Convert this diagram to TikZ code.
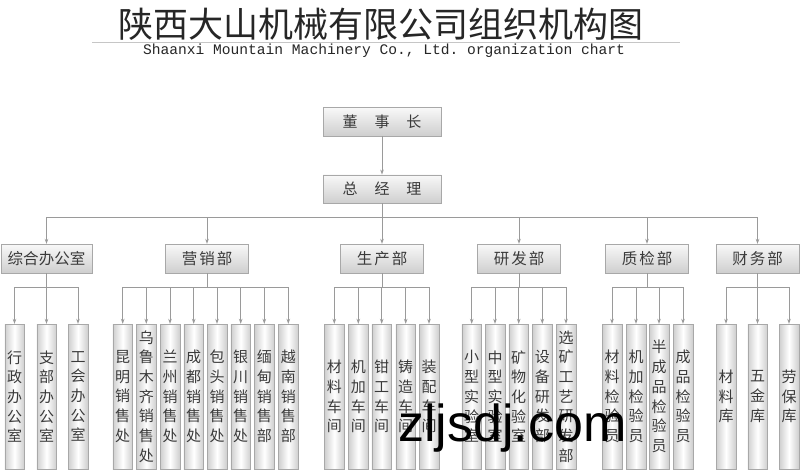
\documentclass[tikz,border=0pt]{standalone}
\usepackage{fontspec}
\newfontfamily\cjk{Noto Sans CJK SC}
\setmonofont{Liberation Mono}
\newfontfamily\wmfont{Liberation Sans}
\usetikzlibrary{arrows.meta}
\definecolor{linegray}{HTML}{9A9A9A}
\definecolor{boxline}{HTML}{A8A8A8}
\definecolor{txtgray}{HTML}{3A3A3A}
\begin{document}
\begin{tikzpicture}[x=1pt,y=-1pt,
  topbox/.style={draw=boxline, top color=gray!5, bottom color=gray!38, minimum width=118pt, minimum height=28.5pt, inner sep=0pt, font=\cjk\fontsize{15}{15}\selectfont, text=txtgray},
  deptbox/.style={draw=boxline, top color=gray!5, bottom color=gray!38, minimum width=83pt, minimum height=29pt, inner sep=0pt, font=\cjk\fontsize{15.5}{15.5}\selectfont, text=txtgray},
  leaf/.style={draw=boxline, left color=gray!38, right color=gray!38, middle color=white, minimum width=19.5pt, minimum height=145pt, inner sep=0pt, font=\cjk\fontsize{15}{19.7}\selectfont, align=center, text=txtgray},
  conn/.style={draw=linegray, line width=0.8pt},
  arr/.style={conn, -{Stealth[length=5pt,width=3.6pt]}}
]
\fill[white] (0,0) rectangle (800,471);
\useasboundingbox (0,0) rectangle (800,471);

% title
\node[font=\cjk\fontsize{35}{35}\selectfont, text=black!85] (title) at (381,24) {陕西大山机械有限公司组织机构图};
\draw[gray!45, line width=1pt] (92,42) -- (680,42);
\node[font=\ttfamily\fontsize{14.6}{14.6}\selectfont, text=black!85] (sub) at (384,51) {Shaanxi Mountain Machinery Co., Ltd. organization chart};

% top
\node[topbox] (dsz) at (382,121.5) {董\hspace{17pt}事\hspace{17pt}长};
\node[topbox] (zjl) at (382,189) {总\hspace{17pt}经\hspace{17pt}理};
\draw[arr] (dsz.south) -- (zjl.north);

% departments
\node[deptbox, minimum width=91pt] (d1) at (46.5,258.5) {综合办公室};
\node[deptbox] (d2) at (207,258.5) {营\hspace{2pt}销\hspace{2pt}部};
\node[deptbox] (d3) at (382,258.5) {生\hspace{2pt}产\hspace{2pt}部};
\node[deptbox] (d4) at (519,258.5) {研\hspace{2pt}发\hspace{2pt}部};
\node[deptbox] (d5) at (647,258.5) {质\hspace{2pt}检\hspace{2pt}部};
\node[deptbox] (d6) at (757.5,258.5) {财\hspace{2pt}务\hspace{2pt}部};

\coordinate (tb) at (0,217);
\draw[conn] (zjl.south) -- (zjl.south |- tb);
\draw[conn] (d1 |- tb) -- (d6 |- tb);
\foreach \d in {d1,d2,d3,d4,d5,d6} \draw[arr] (\d |- tb) -- (\d.north);

% leaves
\def\ly{396.5}
\foreach \x/\t [count=\i] in {14.5/{行\\政\\办\\公\\室}, 46.5/{支\\部\\办\\公\\室}, 78/{工\\会\\办\\公\\室}}
  \node[leaf] (a\i) at (\x,\ly) {\t};
\foreach \x/\t [count=\i] in {122.7/{昆\\明\\销\\售\\处}, 146.3/{乌\\鲁\\木\\齐\\销\\售\\处}, 170/{兰\\州\\销\\售\\处}, 193.7/{成\\都\\销\\售\\处}, 217/{包\\头\\销\\售\\处}, 240.7/{银\\川\\销\\售\\处}, 264.3/{缅\\甸\\销\\售\\部}, 288.3/{越\\南\\销\\售\\部}}
  \node[leaf] (b\i) at (\x,\ly) {\t};
\foreach \x/\t [count=\i] in {334.3/{材\\料\\车\\间}, 358.3/{机\\加\\车\\间}, 381.7/{钳\\工\\车\\间}, 405.7/{铸\\造\\车\\间}, 429/{装\\配\\车\\间}}
  \node[leaf] (c\i) at (\x,\ly) {\t};
\foreach \x/\t [count=\i] in {471.7/{小\\型\\实\\验\\室}, 495/{中\\型\\实\\验\\室}, 518.7/{矿\\物\\化\\验\\室}, 542.3/{设\\备\\研\\发\\部}, 566/{选\\矿\\工\\艺\\研\\发\\部}}
  \node[leaf] (e\i) at (\x,\ly) {\t};
\foreach \x/\t [count=\i] in {612/{材\\料\\检\\验\\员}, 636/{机\\加\\检\\验\\员}, 659/{半\\成\\品\\检\\验\\员}, 683/{成\\品\\检\\验\\员}}
  \node[leaf] (f\i) at (\x,\ly) {\t};
\foreach \x/\t [count=\i] in {726/{材\\料\\库}, 757.5/{五\\金\\库}, 789/{劳\\保\\库}}
  \node[leaf] (g\i) at (\x,\ly) {\t};

\coordinate (lb) at (0,287);
% group buses
\draw[conn] (d1.south) -- (d1.south |- lb); \draw[conn] (a1 |- lb) -- (a3 |- lb);
\foreach \i in {1,...,3} \draw[arr] (a\i |- lb) -- (a\i.north);
\draw[conn] (d2.south) -- (d2.south |- lb); \draw[conn] (b1 |- lb) -- (b8 |- lb);
\foreach \i in {1,...,8} \draw[arr] (b\i |- lb) -- (b\i.north);
\draw[conn] (d3.south) -- (d3.south |- lb); \draw[conn] (c1 |- lb) -- (c5 |- lb);
\foreach \i in {1,...,5} \draw[arr] (c\i |- lb) -- (c\i.north);
\draw[conn] (d4.south) -- (d4.south |- lb); \draw[conn] (e1 |- lb) -- (e5 |- lb);
\foreach \i in {1,...,5} \draw[arr] (e\i |- lb) -- (e\i.north);
\draw[conn] (d5.south) -- (d5.south |- lb); \draw[conn] (f1 |- lb) -- (f4 |- lb);
\foreach \i in {1,...,4} \draw[arr] (f\i |- lb) -- (f\i.north);
\draw[conn] (d6.south) -- (d6.south |- lb); \draw[conn] (g1 |- lb) -- (g3 |- lb);
\foreach \i in {1,...,3} \draw[arr] (g\i |- lb) -- (g\i.north);

% watermark
\node[font=\wmfont\fontsize{52}{52}\selectfont, anchor=base west, inner sep=0pt] (wm) at (398,441) {zljsdj.com};
\end{tikzpicture}
\end{document}
